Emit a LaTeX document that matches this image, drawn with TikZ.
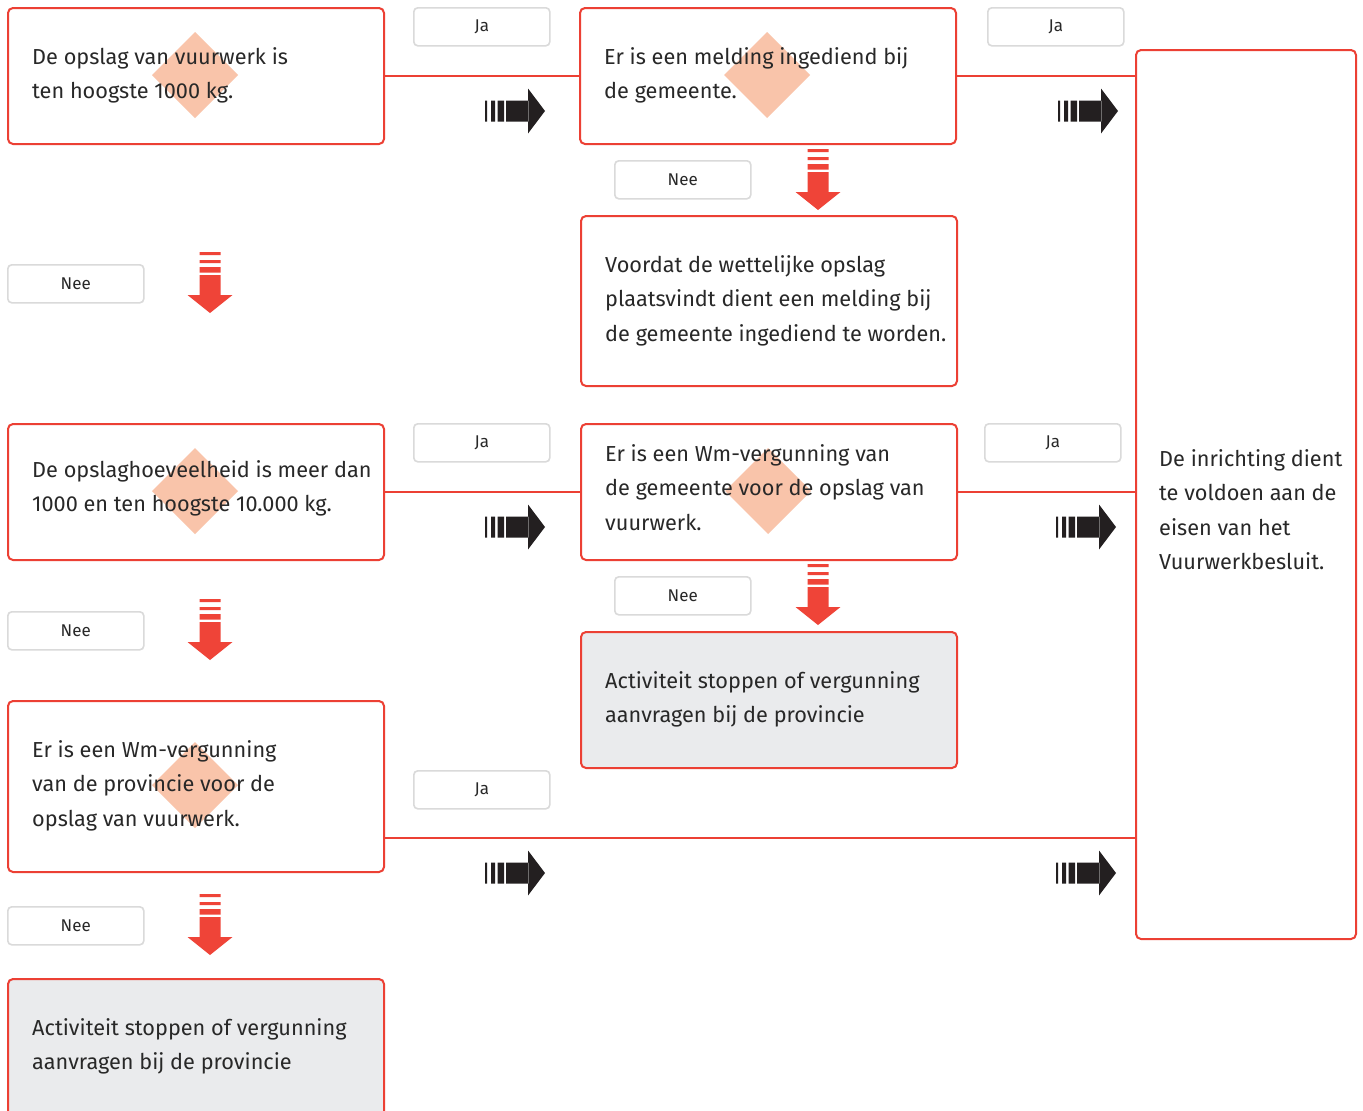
\documentclass[tikz,border=0pt]{standalone}
\usepackage{fontspec}
\setmainfont{Fira Sans}
\usetikzlibrary{calc}

\definecolor{flowred}{RGB}{236,64,52}
\definecolor{arrowred}{RGB}{239,68,56}
\definecolor{arrowblack}{RGB}{35,31,32}
\definecolor{hintfill}{RGB}{249,196,170}
\definecolor{stopfill}{RGB}{234,235,237}
\definecolor{tagline}{RGB}{218,218,218}
\definecolor{bodytext}{RGB}{40,40,40}

\tikzset{
  box/.style={draw=flowred, line width=2pt, rounded corners=5pt, fill=white,
    inner sep=0pt, anchor=north west, minimum width=376pt},
  stopbox/.style={box, fill=stopfill},
  tag/.style={draw=tagline, line width=1.6pt, rounded corners=4pt, fill=white,
    inner sep=0pt, anchor=north west, minimum width=136pt, minimum height=38pt,
    font=\fontsize{17}{19}\selectfont, text=bodytext},
  % texts are placed by the baseline of their last line
  txt/.style={anchor=base west, align=left, inner sep=0pt,
    font=\fontsize{21.7}{34.5}\selectfont, text=bodytext},
  link/.style={draw=flowred, line width=1.6pt},
  pics/blackarrow/.style={code={
    \fill[arrowblack] (0,-10.5) rectangle (2,10.5)
      (6,-10.5) rectangle (10,10.5)
      (12.5,-10.5) rectangle (19,10.5)
      (21,-10.5) rectangle (43.5,10.5)
      (43,-22.5) -- (60,0) -- (43,22.5) -- cycle;
  }},
  pics/redarrow/.style={code={
    \fill[arrowred] (-10.5,0) rectangle (10.5,3)
      (-10.5,8) rectangle (10.5,11)
      (-10.5,15) rectangle (10.5,20.5)
      (-10.5,23) rectangle (10.5,43.5)
      (-22.5,43) -- (0,61) -- (22.5,43) -- cycle;
  }},
  pics/hint/.style={code={
    \fill[hintfill] (0,-43) -- (43,0) -- (0,43) -- (-43,0) -- cycle;
  }},
}

\begin{document}
\begin{tikzpicture}[x=1pt,y=-1pt]
\useasboundingbox (0,0) rectangle (1363,1111);
\clip (0,0) rectangle (1363,1111);
\fill[white] (0,0) rectangle (1363,1111);

% decision and outcome boxes
\node[box, minimum height=136pt] (b1) at (7,7) {};
\node[box, minimum height=136pt] (b2) at (579,7) {};
\node[box, minimum height=170pt] (b3) at (580,215) {};
\node[box, minimum height=136pt] (b4) at (7,423) {};
\node[box, minimum height=136pt] (b5) at (580,423) {};
\node[stopbox, minimum height=136pt] (b6) at (580,631) {};
\node[box, minimum height=171pt] (b7) at (7,700) {};
\node[stopbox, minimum height=170pt] (b8) at (7,978) {};
\node[box, minimum width=220pt, minimum height=889pt] (fin) at (1135,49) {};

% "Ja" connections to the next step
\coordinate (row3) at (383,838);
\draw[link] (b1.east) -- (b2.west);
\draw[link] (b2.east) -- (b2.east -| fin.west);
\draw[link] (b4.east) -- (b5.west);
\draw[link] (b5.east) -- (b5.east -| fin.west);
\draw[link] (b7.east |- row3) -- (row3 -| fin.west);

% diamond markers behind the questions
\pic at (195,75) {hint};
\pic at (767,75) {hint};
\pic at (195,491) {hint};
\pic at (768,491) {hint};
\pic at (195,785) {hint};

% box texts
\node[txt] (t1) at (32,98.5) {De opslag van vuurwerk is\\ten hoogste 1000 kg.};
\node[txt] (t2) at (604,98.5) {Er is een melding ingediend bij\\de gemeente.};
\node[txt] (t3) at (605,341) {Voordat de wettelijke opslag\\plaatsvindt dient een melding bij\\de gemeente ingediend te worden.};
\node[txt] (t4) at (32,511.5) {De opslaghoeveelheid is meer dan\\1000 en ten hoogste 10.000 kg.};
\node[txt] (t5) at (605,530) {Er is een Wm-vergunning van\\de gemeente voor de opslag van\\vuurwerk.};
\node[txt] (t6) at (605,722.5) {Activiteit stoppen of vergunning\\aanvragen bij de provincie};
\node[txt] (t7) at (32,826) {Er is een Wm-vergunning\\van de provincie voor de\\opslag van vuurwerk.};
\node[txt] (t8) at (32,1069.5) {Activiteit stoppen of vergunning\\aanvragen bij de provincie};
\node[txt] (t9) at (1159,569.5) {De inrichting dient\\te voldoen aan de\\eisen van het\\Vuurwerkbesluit.};

% answer tags
\node[tag] (ja1) at (413,7) {Ja};
\node[tag] (ja2) at (987,7) {Ja};
\node[tag] (nee1) at (614,160) {Nee};
\node[tag] (nee2) at (7,264) {Nee};
\node[tag] (ja3) at (413,423) {Ja};
\node[tag] (ja4) at (984,423) {Ja};
\node[tag] (nee3) at (614,576) {Nee};
\node[tag] (nee4) at (7,611) {Nee};
\node[tag] (ja5) at (413,770) {Ja};
\node[tag] (nee5) at (7,906) {Nee};

% direction arrows
\pic at (485,111) {blackarrow};
\pic at (1058,111) {blackarrow};
\pic at (485,527) {blackarrow};
\pic at (1056,527) {blackarrow};
\pic at (485,873) {blackarrow};
\pic at (1056,873) {blackarrow};

\pic at (818,149) {redarrow};
\pic at (210,252) {redarrow};
\pic at (818,564) {redarrow};
\pic at (210,599) {redarrow};
\pic at (210,894) {redarrow};
\end{tikzpicture}
\end{document}
